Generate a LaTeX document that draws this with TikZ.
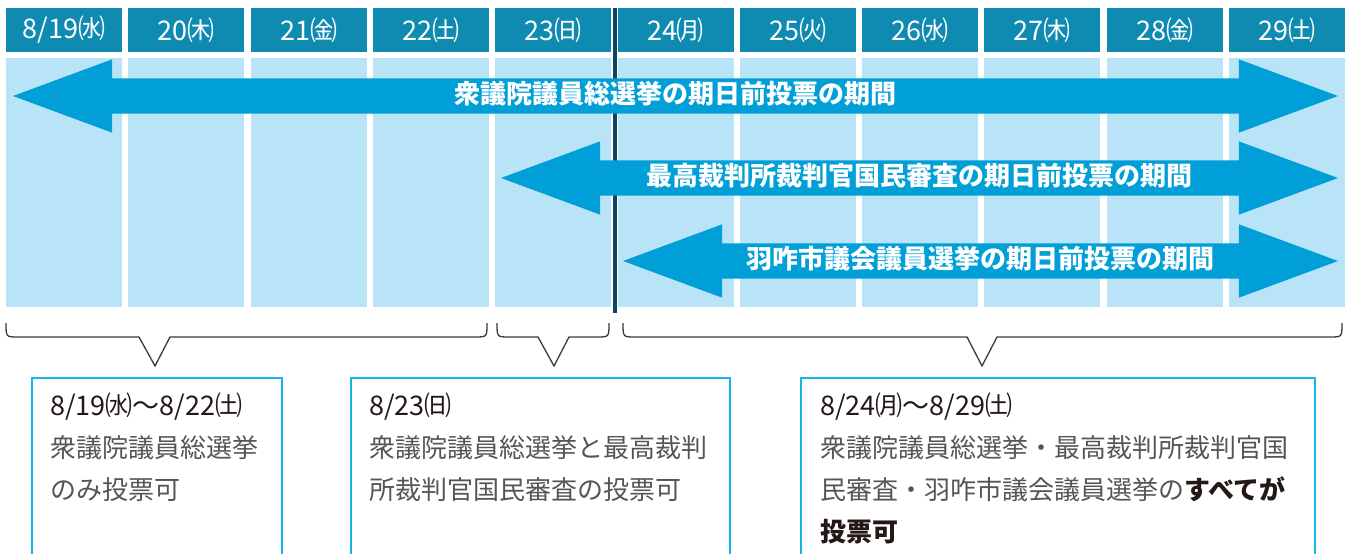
\documentclass[tikz,border=0pt]{standalone}
\usepackage{fontspec}
\setmainfont{Noto Sans CJK JP}
\usepackage{tikz}
\usetikzlibrary{shapes.arrows}
\definecolor{headteal}{HTML}{0F8BB2}
\definecolor{daylight}{HTML}{B9E4F8}
\definecolor{arrowblue}{HTML}{009FD8}
\definecolor{dividerdark}{HTML}{0B4566}
\definecolor{boxcyan}{HTML}{18B4E6}
\definecolor{braceline}{HTML}{3A3A3A}
\definecolor{datedark}{HTML}{231815}
\definecolor{bodygray}{HTML}{555555}
\newcommand{\notedate}[1]{{\color{datedark}\fontsize{27}{42}\selectfont #1}}

\begin{document}
\begin{tikzpicture}[x=1pt, y=-1pt,
    dayhead/.style={fill=headteal, minimum width=116pt, minimum height=44pt, inner sep=0pt,
        text=white, font=\fontsize{27}{27}\selectfont},
    daycol/.style={fill=daylight, minimum width=116pt, minimum height=249pt, inner sep=0pt},
    votearrow/.style={double arrow, fill=arrowblue, text=white, font=\fontsize{26}{26}\selectfont\bfseries,
        inner xsep=0pt, inner ysep=4pt, text height=21pt, text depth=6pt, minimum width=0pt,
        double arrow head extend=19pt, double arrow tip angle=40.6},
    bracket/.style={draw=braceline, line width=1.3pt},
    infobox/.style={draw=boxcyan, line width=2pt, anchor=north west, minimum height=200pt, inner sep=0pt},
    notetext/.style={anchor=base west, inner sep=0pt, text width=500pt, align=left,
        font=\fontsize{26}{42}\selectfont, text=bodygray}]
    \useasboundingbox (0,0) rectangle (1349,554);

    % Day columns
    \foreach \t [count=\i from 0] in {8/19㈬, 20㈭, 21㈮, 22㈯, 23㈰, 24㈪, 25㈫, 26㈬, 27㈭, 28㈮, 29㈯} {
        \node[daycol] (col\i) at (64+122.3*\i, 182.5) {};
        \node[dayhead] (hd\i) at (64+122.3*\i, 30) {\t};
    }

    % Start of the city election
    \draw[dividerdark, line width=4.5pt] (615,8) -- (615,313);

    % Voting periods
    \node[votearrow, minimum height=1325pt] (arrA) at (675.5,96) {衆議院議員総選挙の期日前投票の期間};
    \node[votearrow, minimum height=837pt] (arrB) at (919.5,178) {最高裁判所裁判官国民審査の期日前投票の期間};
    \node[votearrow, minimum height=715pt] (arrC) at (980.5,261) {羽咋市議会議員選挙の期日前投票の期間};

    % Braces
    \draw[bracket] (6,323) .. controls (6,337) .. (18,337) -- (139,337) -- (155,366) -- (170,337)
        -- (475,337) .. controls (487,337) .. (487,323);
    \draw[bracket] (497,323) .. controls (497,337) .. (509,337) -- (538,337) -- (554,366) -- (569,337)
        -- (597,337) .. controls (609,337) .. (609,323);
    \draw[bracket] (623,323) .. controls (623,337) .. (635,337) -- (967,337) -- (982,366) -- (997,337)
        -- (1330,337) .. controls (1342,337) .. (1342,323);

    % Notes
    \node[infobox, minimum width=250pt] (box1) at (31,377) {};
    \node[infobox, minimum width=379pt] (box2) at (350,377) {};
    \node[infobox, minimum width=514pt] (box3) at (800,377) {};

    \node[notetext] (note1) at (50,415) {\notedate{8/19㈬〜8/22㈯}\\衆議院議員総選挙\\のみ投票可};
    \node[notetext] (note2) at (369,415) {\notedate{8/23㈰}\\衆議院議員総選挙と最高裁判\\所裁判官国民審査の投票可};
    \node[notetext] (note3) at (820,415) {\notedate{8/24㈪〜8/29㈯}\\衆議院議員総選挙・最高裁判所裁判官国\\民審査・羽咋市議会議員選挙の\textcolor{datedark}{\bfseries すべてが}\\\textcolor{datedark}{\bfseries 投票可}};
\end{tikzpicture}
\end{document}
